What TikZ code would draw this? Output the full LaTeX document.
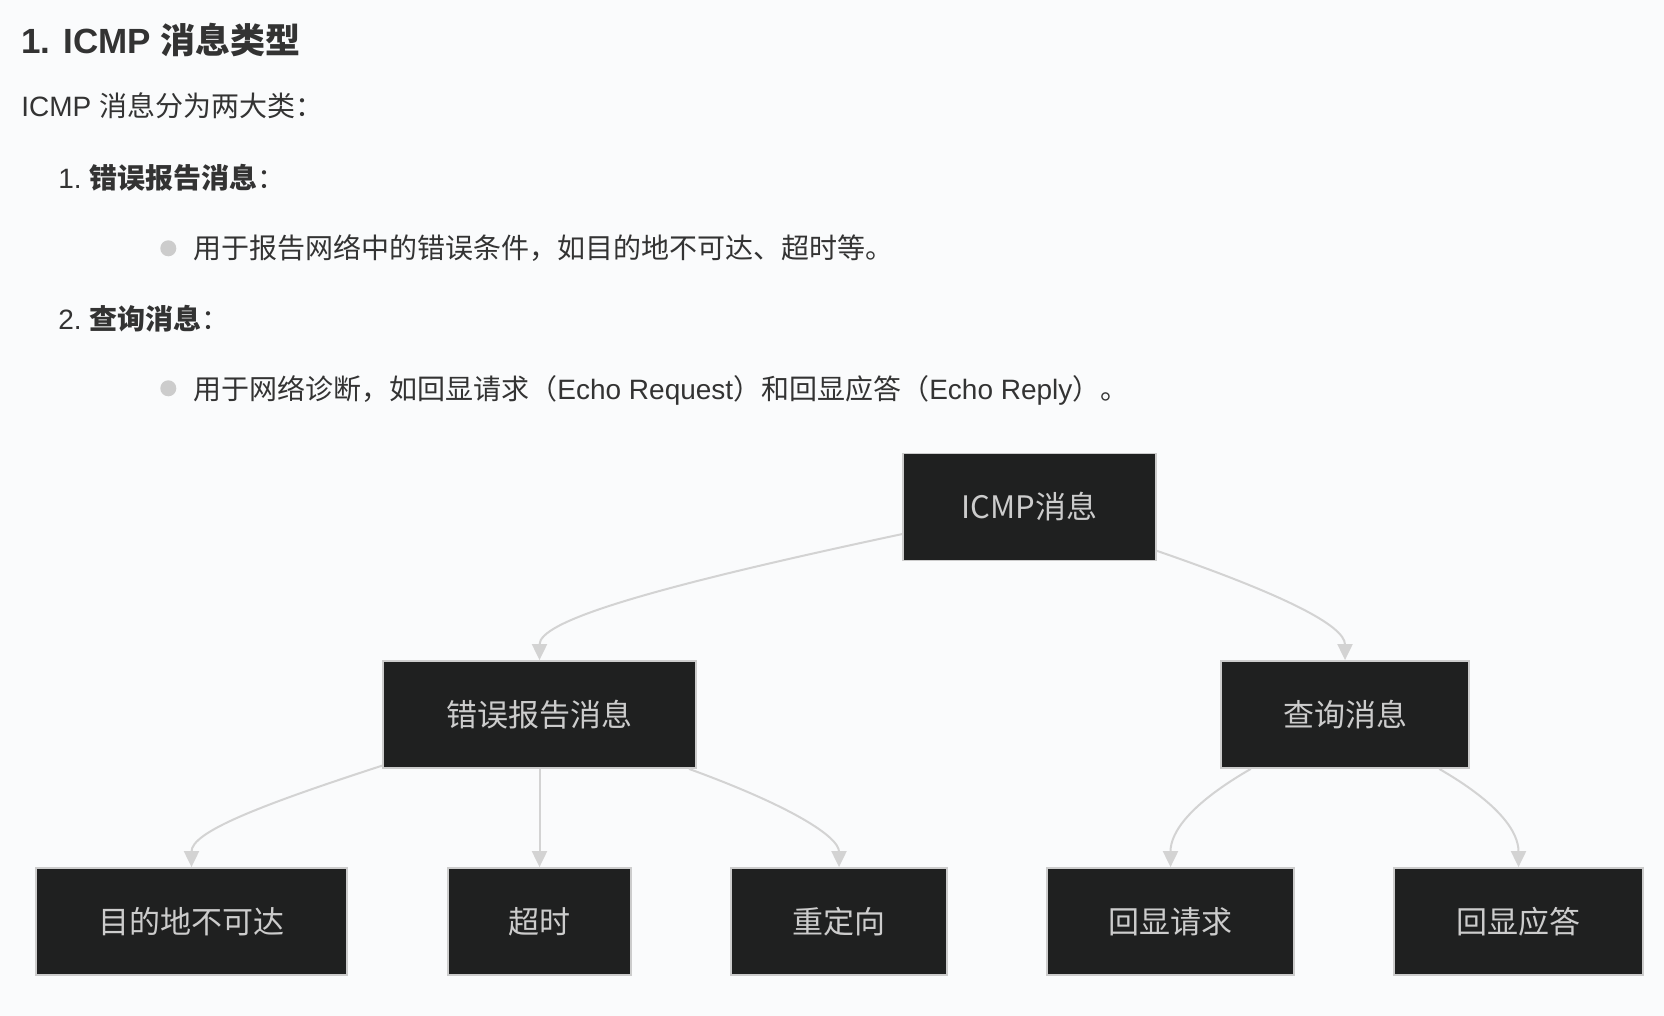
\documentclass[tikz,border=0pt]{standalone}
\usepackage{fontspec}
\setmainfont{Liberation Sans}
\newfontfamily\cjk{Noto Sans CJK SC}
\usetikzlibrary{arrows.meta}

\definecolor{pagebg}{HTML}{FAFBFC}
\definecolor{boxfill}{HTML}{1F2020}
\definecolor{boxline}{HTML}{CCCCCC}
\definecolor{linkgray}{HTML}{D3D3D3}
\definecolor{textgray}{HTML}{333333}

\tikzset{
  msgbox/.style={draw=boxline,line width=0.9pt,fill=boxfill,text=boxline,
    minimum height=53.5pt,inner sep=0pt,font=\cjk\fontsize{15.5}{18}\selectfont},
  link/.style={draw=linkgray,line width=1pt,-{Triangle[length=8pt,width=7.5pt]}},
  textline/.style={anchor=base west,inner sep=0pt,text=textgray},
  bodyfont/.style={font=\fontsize{14}{17}\selectfont},
  dot/.style={circle,fill=boxline,inner sep=0pt,minimum size=8pt}
}

\begin{document}
\begin{tikzpicture}[x=0.5pt,y=-0.5pt]
\useasboundingbox (0,0) rectangle (1664,1016);
\fill[pagebg] (0,0) rectangle (1664,1016);

\node[textline,font=\fontsize{17.5}{21}\selectfont\bfseries] (title) at (21,54) {1. ICMP {\cjk\bfseries 消息类型}};
\node[textline,bodyfont] (intro) at (21,117) {ICMP {\cjk 消息分为两大类：}};
\node[textline,bodyfont] (item1) at (58,188.5) {1.\hspace{3.8pt}{\cjk\bfseries 错误报告消息}{\cjk ：}};
\node[dot] (dot1) at (168.3,248.3) {};
\node[textline,bodyfont] (desc1) at (193,258.5) {\cjk 用于报告网络中的错误条件，如目的地不可达、超时等。};
\node[textline,bodyfont] (item2) at (58,329) {2.\hspace{3.8pt}{\cjk\bfseries 查询消息}{\cjk ：}};
\node[dot] (dot2) at (168.3,388.3) {};
\node[textline,bodyfont] (desc2) at (193,399.5) {{\cjk 用于网络诊断，如回显请求（}Echo Request{\cjk ）和回显应答（}Echo Reply{\cjk ）。}};

\node[msgbox,minimum width=126.5pt] (icmp) at (1029.5,507) {ICMP消息};
\node[msgbox,minimum width=156.5pt] (err) at (539.5,714.5) {错误报告消息};
\node[msgbox,minimum width=124pt] (query) at (1345,714.5) {查询消息};
\node[msgbox,minimum width=155.5pt] (dest) at (191.5,921.5) {目的地不可达};
\node[msgbox,minimum width=91.5pt] (timeout) at (539.5,921.5) {超时};
\node[msgbox,minimum width=108pt] (redirect) at (839,921.5) {重定向};
\node[msgbox,minimum width=123.5pt] (echoreq) at (1170.5,921.5) {回显请求};
\node[msgbox,minimum width=124.5pt] (echorep) at (1518.5,921.5) {回显应答};

\draw[link] (icmp.192) .. controls +(192:135pt) and +(90:19pt) .. (err.north);
\draw[link] (icmp.341) .. controls +(341:65pt) and +(90:17.5pt) .. (query.north);
\draw[link] (err.198) .. controls +(198:65pt) and +(90:17.5pt) .. (dest.north);
\draw[link] (err) -- (timeout);
\draw[link] (err.340) .. controls +(340:55pt) and +(90:15pt) .. (redirect.north);
\draw[link] (query.210) .. controls +(210:35pt) and +(90:17.5pt) .. (echoreq.north);
\draw[link] (query.330) .. controls +(330:35pt) and +(90:17.5pt) .. (echorep.north);
\end{tikzpicture}
\end{document}
